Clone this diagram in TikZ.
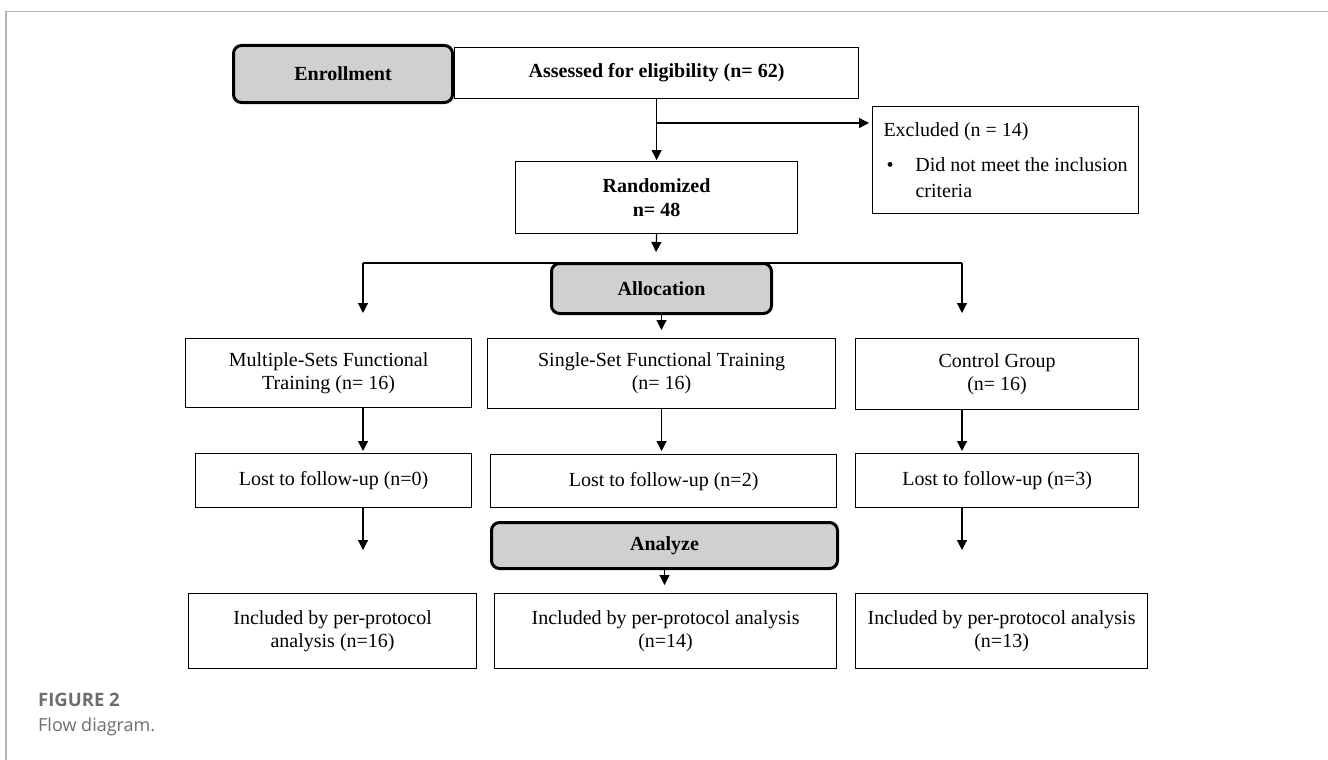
\documentclass[tikz,border=0pt]{standalone}
\usepackage{fontspec}
\setmainfont{Liberation Serif}
\newfontfamily\capfont{Open Sans}
\usetikzlibrary{arrows.meta,backgrounds}
\definecolor{boxgray}{RGB}{208,208,208}
\definecolor{framegray}{RGB}{180,180,180}
\definecolor{capgray}{RGB}{110,110,110}
\begin{document}
\begin{tikzpicture}[x=1pt,y=-1pt,
  box/.style={draw, line width=1.2pt, inner sep=0pt, align=center, anchor=north west,
    font=\fontsize{20}{23}\selectfont},
  phase/.style={box, fill=boxgray, line width=3pt, rounded corners=8pt,
    font=\bfseries\fontsize{20}{23}\selectfont},
  conn/.style={line width=1.2pt},
  arr/.style={conn, -{Triangle[length=10pt,width=10pt]}}]
\useasboundingbox (0,0) rectangle (1328,760);

% nodes
\node[phase, minimum width=219pt, minimum height=57pt] (enr) at (232,44) {Enrollment};
\node[box, minimum width=404pt, minimum height=51pt, font=\bfseries\fontsize{20}{23}\selectfont] (ass) at (454,47) {Assessed for eligibility (n= 62)};
\node[box, minimum width=282pt, minimum height=72pt, font=\bfseries\fontsize{20}{24}\selectfont] (rand) at (515,161) {Randomized\\n= 48};
\node[box, minimum width=266pt, minimum height=107pt, align=left, font=\fontsize{20}{26}\selectfont] (excl) at (872,106)
  {\mbox{Excluded (n = 14)}\\[9pt]\mbox{\hspace*{3pt}\makebox[29pt][l]{\textbullet}Did not meet the inclusion}\\\mbox{\hspace*{32pt}criteria}};
\node[phase, minimum width=220pt, minimum height=50pt] (alloc) at (550,262) {Allocation};
\node[box, minimum width=286pt, minimum height=69pt] (ms) at (185,338) {Multiple-Sets Functional\\Training (n= 16)};
\node[box, minimum width=348pt, minimum height=70pt] (ss) at (487,338) {Single-Set Functional Training\\(n= 16)};
\node[box, minimum width=283pt, minimum height=71pt] (ctl) at (855,338) {Control Group\\(n= 16)};
\node[box, minimum width=276pt, minimum height=54pt] (lms) at (195,453) {Lost to follow-up (n=0)};
\node[box, minimum width=346pt, minimum height=53pt] (lss) at (490,454) {Lost to follow-up (n=2)};
\node[box, minimum width=283pt, minimum height=54pt] (lctl) at (855,453) {Lost to follow-up (n=3)};
\node[phase, minimum width=346pt, minimum height=46pt] (ana) at (490,521) {Analyze};
\node[box, minimum width=288pt, minimum height=75pt] (ims) at (188,593) {Included by per-protocol\\analysis (n=16)};
\node[box, minimum width=342pt, minimum height=75pt] (iss) at (494,593) {Included by per-protocol analysis\\(n=14)};
\node[box, minimum width=292pt, minimum height=75pt] (ictl) at (855,593) {Included by per-protocol analysis\\(n=13)};

\node[anchor=west, inner sep=0pt, text=capgray, font=\capfont\bfseries\fontsize{18.5}{20}\selectfont] (fig) at (38,700) {FIGURE 2};
\node[anchor=west, inner sep=0pt, text=capgray, font=\capfont\fontsize{18}{20}\selectfont] (cap) at (38,727) {Flow diagram.};

% coordinates
\coordinate (br) at (656,123);
\coordinate (hl) at (363,263);
\coordinate (hr) at (962,263);
\coordinate (alt) at (656,252);

\begin{scope}[on background layer]
  \fill[white] (0,0) rectangle (1328,760);
  \draw[framegray, line width=1.3pt] (6,760) -- (6,11.5) -- (1328,11.5);
  \draw[conn] (hl) -- (hr);
\end{scope}

% connectors
\draw[arr, shorten >=1pt] (ass.south) -- (rand.north);
\draw[arr, shorten >=3pt] (br) -- (br -| excl.west);
\draw[arr] (rand.south) -- (alt);
\draw[arr, shorten >=25pt] (hl) -- (hl |- ms.north);
\draw[arr, shorten >=25pt] (hr) -- (hr |- ctl.north);
\draw[arr, shorten >=8pt] (alloc.south) -- (alloc.south |- ss.north);
\draw[arr, shorten >=2pt] (hl |- ms.south) -- (hl |- lms.north);
\draw[arr, shorten >=3pt] (ss.south) -- (ss.south |- lss.north);
\draw[arr, shorten >=2pt] (hr |- ctl.south) -- (hr |- lctl.north);
\draw[arr, shorten >=43pt] (hl |- lms.south) -- (hl |- ims.north);
\draw[arr, shorten >=8pt] (ana.south) -- (ana.south |- iss.north);
\draw[arr, shorten >=43pt] (hr |- lctl.south) -- (hr |- ictl.north);
\end{tikzpicture}
\end{document}
